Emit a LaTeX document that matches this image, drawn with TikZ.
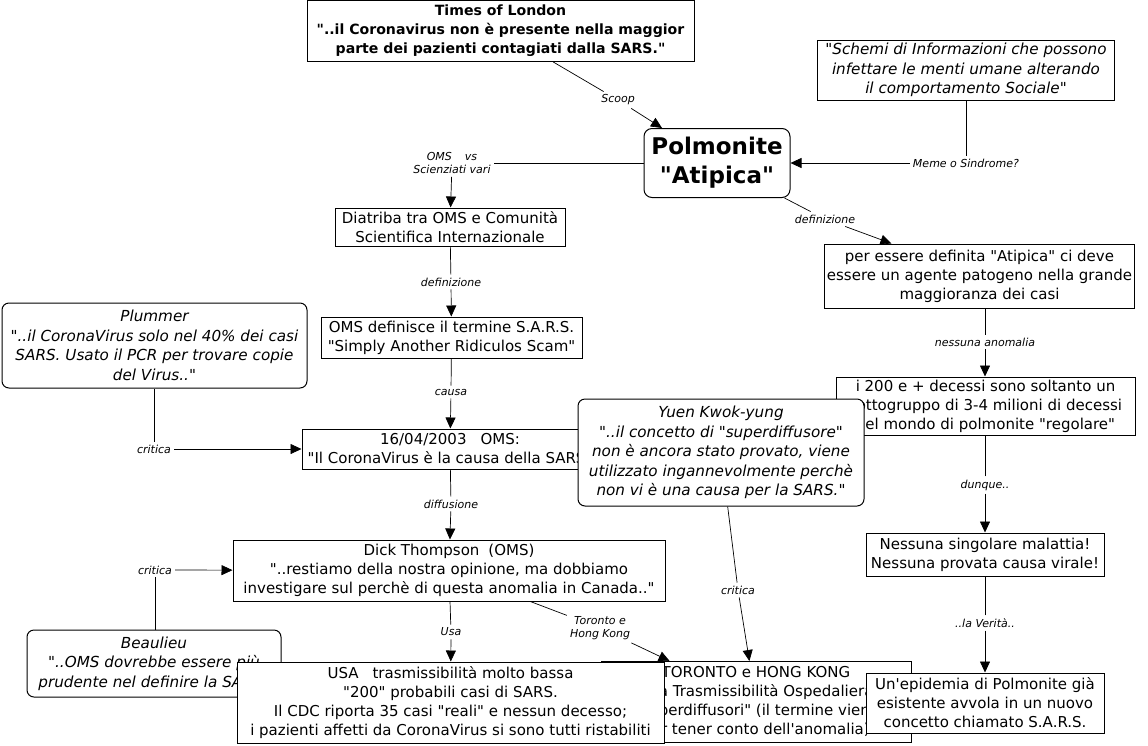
\documentclass[tikz,border=0pt]{standalone}
\usepackage{fontspec}
\setmainfont{DejaVu Sans}[Ligatures=TeXOff]
\usetikzlibrary{arrows.meta}
\tikzset{
  box/.style={draw, line width=1pt, fill=white, align=center, inner sep=2pt,
    font=\fontsize{15}{19}\selectfont},
  ibox/.style={box, font=\fontsize{15.2}{19.5}\selectfont\itshape},
  rbox/.style={ibox, rounded corners=7pt},
  bbox/.style={box, font=\fontsize{14.1}{19}\selectfont\bfseries},
  lab/.style={font=\fontsize{11}{13}\selectfont\itshape, inner sep=3pt, align=center},
  conn/.style={line width=0.7pt},
  arr/.style={conn, -{Triangle[length=11pt,width=10pt]}},
}
\begin{document}
\begin{tikzpicture}[x=1pt,y=-1pt]
\useasboundingbox[fill=white] (0,0) rectangle (1148,745);

% nodes partly hidden (drawn first)
\node[box, minimum width=310, minimum height=81] (toronto) at (756,702)
  {TORONTO e HONG KONG\\Alta Trasmissibilità Ospedaliera\\"Superdiffusori" (il termine viene\\per tener conto dell'anomalia)};
\node[rbox, minimum width=254, minimum height=67] (beau) at (154,663.5)
  {Beaulieu\\"..OMS dovrebbe essere più\\prudente nel definire la SARS"};
\node[box, minimum width=296, minimum height=40] (date) at (450,449)
  {16/04/2003\hspace{14pt}OMS:\\"Il CoronaVirus è la causa della SARS"};
\node[box, minimum width=299, minimum height=58] (i200) at (985.5,406)
  {i 200 e + decessi sono soltanto un\\sottogruppo di 3-4 milioni di decessi\\nel mondo di polmonite "regolare"};

% other nodes
\node[bbox, minimum width=387, minimum height=61] (times) at (500.5,31)
  {Times of London\\"..il Coronavirus non è presente nella maggior\\parte dei pazienti contagiati dalla SARS."};
\node[ibox, minimum width=297, minimum height=60] (schemi) at (966,70)
  {"Schemi di Informazioni che possono\\infettare le menti umane alterando\\il comportamento Sociale"};
\node[box, rounded corners=8pt, minimum width=146, minimum height=69,
  font=\fontsize{23}{29}\selectfont\bfseries] (polm) at (717,163)
  {Polmonite\\"Atipica"};
\node[box, minimum width=230, minimum height=38] (diatriba) at (450,227)
  {Diatriba tra OMS e Comunità\\Scientifica Internazionale};
\node[box, minimum width=261, minimum height=41] (omsdef) at (451.5,337.5)
  {OMS definisce il termine S.A.R.S.\\"Simply Another Ridiculos Scam"};
\node[rbox, minimum width=305, minimum height=85] (plummer) at (154.5,345.5)
  {Plummer\\"..il CoronaVirus solo nel 40\% dei casi\\SARS. Usato il PCR per trovare copie\\del Virus.."};
\node[box, minimum width=309, minimum height=64] (per) at (979.5,276)
  {per essere definita "Atipica" ci deve\\essere un agente patogeno nella grande\\maggioranza dei casi};
\node[box, minimum width=238, minimum height=43] (nessuna) at (985,554.5)
  {Nessuna singolare malattia!\\Nessuna provata causa virale!};
\node[box, minimum width=432, minimum height=61] (dick) at (449,570.5)
  {Dick Thompson\hspace{9pt}(OMS)\\"..restiamo della nostra opinione, ma dobbiamo\\investigare sul perchè di questa anomalia in Canada.."};

% nodes on top
\node[rbox, minimum width=286, minimum height=107] (yuen) at (721,452.5)
  {Yuen Kwok-yung\\"..il concetto di "superdiffusore"\\non è ancora stato provato, viene\\utilizzato ingannevolmente perchè\\non vi è una causa per la SARS."};
\node[box, minimum width=427, minimum height=81] (usa) at (450.5,702.5)
  {USA\hspace{14pt}trasmissibilità molto bassa\\"200" probabili casi di SARS.\\Il CDC riporta 35 casi "reali" e nessun decesso;\\i pazienti affetti da CoronaVirus si sono tutti ristabiliti};
\node[box, minimum width=238, minimum height=60] (epid) at (985,703)
  {Un'epidemia di Polmonite già\\esistente avvola in un nuovo\\concetto chiamato S.A.R.S.};

% labels
\node[lab] (scoop) at (618,100) {Scoop};
\node[lab] (meme) at (966,163) {Meme o Sindrome?};
\node[lab] (omsvs) at (452,163) {OMS\hspace{13pt}vs\\Scienziati vari};
\node[lab] (def1) at (825,219) {definizione};
\node[lab] (def2) at (451,282) {definizione};
\node[lab] (causa) at (451,392) {causa};
\node[lab] (crit1) at (154,449) {critica};
\node[lab] (diff) at (451,504) {diffusione};
\node[lab] (crit2) at (155,570) {critica};
\node[lab] (usalab) at (451,632) {Usa};
\node[lab] (torlab) at (600,628) {Toronto e\\Hong Kong};
\node[lab] (crit3) at (738,590) {critica};
\node[lab] (nanom) at (985,342) {nessuna anomalia};
\node[lab] (dunque) at (985,485) {dunque..};
\node[lab] (verita) at (985,623) {..la Verità..};

% connectors
\draw[conn] (times) -- (scoop);
\draw[arr] (scoop) -- (polm);
\draw[conn] (meme.north) -- (meme.north |- schemi.south);
\draw[arr] (meme) -- (polm);
\draw[conn] (polm) -- (omsvs);
\draw[arr] (omsvs) -- (diatriba);
\draw[conn] (polm) -- (def1);
\draw[arr] (def1) -- (per);
\draw[conn] (diatriba) -- (def2);
\draw[arr] (def2) -- (omsdef);
\draw[conn] (omsdef) -- (causa);
\draw[arr] (causa) -- (date);
\draw[conn] (crit1.north) -- (crit1.north |- plummer.south);
\draw[arr] (crit1) -- (date);
\draw[conn] (date) -- (diff);
\draw[arr] (diff) -- (dick);
\draw[conn] (crit2.south) -- (crit2.south |- beau.north);
\draw[arr] (crit2) -- (dick);
\draw[conn] (dick) -- (usalab);
\draw[arr] (usalab) -- (usa);
\draw[conn] (dick) -- (torlab);
\draw[arr] (torlab) -- (toronto);
\draw[conn] (yuen) -- (crit3);
\draw[arr] (crit3) -- (toronto);
\draw[conn] (nanom.north) -- (nanom.north |- per.south);
\draw[arr] (nanom.south) -- (nanom.south |- i200.north);
\draw[conn] (dunque.north) -- (dunque.north |- i200.south);
\draw[arr] (dunque.south) -- (dunque.south |- nessuna.north);
\draw[conn] (verita.north) -- (verita.north |- nessuna.south);
\draw[arr] (verita.south) -- (verita.south |- epid.north);
\end{tikzpicture}
\end{document}
